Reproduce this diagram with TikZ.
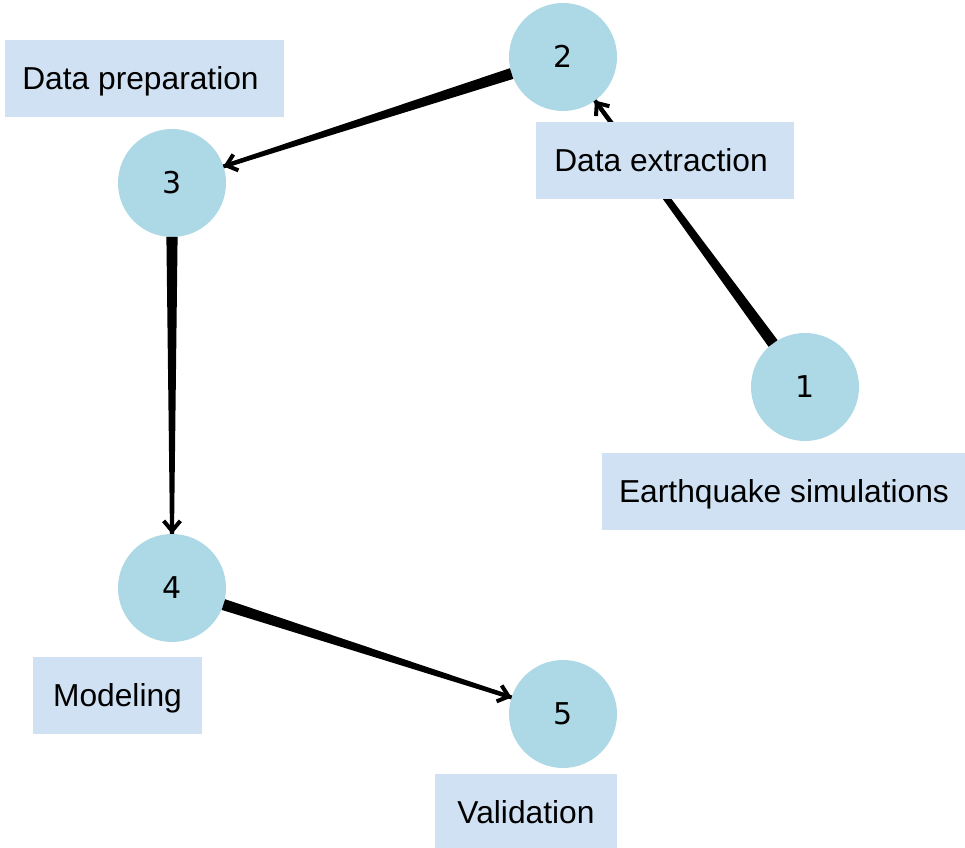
\documentclass[tikz,border=0pt]{standalone}
\usepackage{fontspec}
\setmainfont{Liberation Sans}
\newfontfamily\digitfont{DejaVu Sans}
\usetikzlibrary{calc,arrows.meta}

\definecolor{stepfill}{RGB}{173,216,230}
\definecolor{tagfill}{RGB}{207,225,242}
\definecolor{edgeink}{RGB}{0,0,0}

% radius of the step circles and widths of the tapered connectors
\newcommand{\noderad}{40.5pt}
\newcommand{\srcw}{4.2pt}
\newcommand{\tgtw}{1.5pt}

% tapered connector: wide at the source node, thin at the target, open arrowhead
\newcommand{\taperedge}[2]{%
  \path ($(#1)!\noderad!(#2)$) coordinate (#1-#2-s)
        ($(#2)!\noderad!(#1)$) coordinate (#1-#2-t);
  \fill[edgeink] ($(#1-#2-s)!\srcw!90:(#1-#2-t)$)
    -- ($(#1-#2-t)!\tgtw!-90:(#1-#2-s)$)
    -- ($(#1-#2-t)!\tgtw!90:(#1-#2-s)$)
    -- ($(#1-#2-s)!\srcw!-90:(#1-#2-t)$) -- cycle;
  \draw[edgeink, line width=3pt,
        -{Straight Barb[length=7.5pt,width=12.5pt]}]
    ($(#1-#2-t)!16pt!(#1-#2-s)$) -- (#1-#2-t);
}

\begin{document}
\begin{tikzpicture}[x=0.75pt,y=-0.75pt,
  stepnode/.style={circle, fill=stepfill, draw=none, minimum size=81pt,
    inner sep=0pt, font=\digitfont\fontsize{22.5}{26}\selectfont,
    text height=16.4pt, text depth=0pt},
  tagnode/.style={rectangle, fill=tagfill, draw=none, inner sep=0pt,
    minimum height=57.75pt, font=\fontsize{23.8}{28}\selectfont,
    text height=17pt, text depth=1pt}]
\useasboundingbox (0,0) rectangle (965,848);
\fill[white] (0,0) rectangle (965,848);

% step circles
\node[stepnode] (n1) at (805,387) {1};
\node[stepnode] (n2) at (563,57)  {2};
\node[stepnode] (n3) at (172,183) {3};
\node[stepnode] (n4) at (172,588) {4};
\node[stepnode] (n5) at (563,714) {5};

% connectors
\taperedge{n1}{n2}
\taperedge{n2}{n3}
\taperedge{n3}{n4}
\taperedge{n4}{n5}

% captions
\node[tagnode, minimum width=273pt]    (t1) at (784,492)   {Earthquake simulations};
\node[tagnode, minimum width=193.5pt]  (t2) at (665,160.5) {Data extraction\hspace*{6pt}};
\node[tagnode, minimum width=209.25pt] (t3) at (144.5,78.5) {Data preparation\hspace*{6pt}};
\node[tagnode, minimum width=126.75pt] (t4) at (117.5,695.5) {Modeling};
\node[tagnode, minimum width=136.5pt]  (t5) at (526,812.5) {Validation};
\end{tikzpicture}
\end{document}
